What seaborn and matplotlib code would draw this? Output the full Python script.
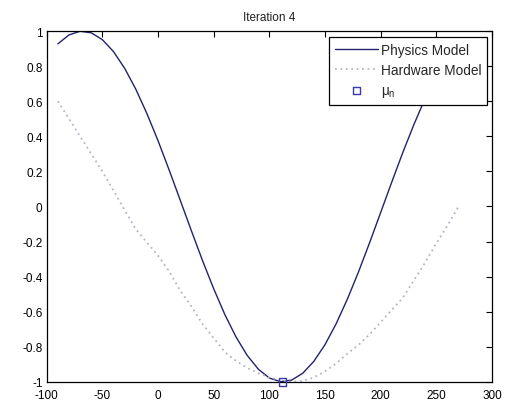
import matplotlib
matplotlib.use("Agg")
import matplotlib.pyplot as plt
import seaborn as sns
import pandas as pd

# Angle grid (degrees) shared by both model curves
angle = [-90, -80, -70, -60, -50, -40, -30, -20, -10, 0, 10, 20, 30, 40, 50,
         60, 70, 80, 90, 100, 110, 120, 130, 140, 150, 160, 170, 180, 190,
         200, 210, 220, 230, 240, 250, 260, 270]

physics = [0.927, 0.978, 0.999, 0.990, 0.951, 0.883, 0.788, 0.669, 0.530,
           0.375, 0.208, 0.035, -0.139, -0.309, -0.469, -0.616, -0.743,
           -0.848, -0.927, -0.978, -0.999, -0.990, -0.951, -0.883, -0.788,
           -0.669, -0.530, -0.375, -0.208, -0.035, 0.139, 0.309, 0.469,
           0.616, 0.743, 0.848, 0.927]

hardware = [0.60, 0.50, 0.40, 0.30, 0.20, 0.09, -0.02, -0.13, -0.205, -0.28,
            -0.37, -0.48, -0.57, -0.67, -0.75, -0.83, -0.88, -0.92, -0.95,
            -0.975, -0.99, -1.0, -0.995, -0.975, -0.94, -0.895, -0.84, -0.79,
            -0.73, -0.66, -0.59, -0.52, -0.42, -0.32, -0.21, -0.11, 0.0]

mu_n_x = [112]
mu_n_y = [-1.0]

x_ticks = [-100, -50, 0, 50, 100, 150, 200, 250, 300]
y_ticks = [-1, -0.8, -0.6, -0.4, -0.2, 0, 0.2, 0.4, 0.6, 0.8, 1]
y_tick_labels = ["-1", "-0.8", "-0.6", "-0.4", "-0.2", "0", "0.2", "0.4",
                 "0.6", "0.8", "1"]

sns.set_style("white")
plt.rcParams["font.family"] = ["Liberation Sans", "DejaVu Sans"]
plt.rcParams["mathtext.fontset"] = "custom"
plt.rcParams["mathtext.rm"] = "Liberation Sans"
plt.rcParams["mathtext.it"] = "Liberation Sans"

df = pd.DataFrame({"angle": angle, "physics": physics, "hardware": hardware})

fig = plt.figure(figsize=(5.10, 4.06), dpi=100)
ax = fig.add_axes([0.0916, 0.057, 0.873, 0.864])

sns.lineplot(data=df, x="angle", y="physics", ax=ax, color="#22226a",
             linewidth=1.0, label="Physics Model", sort=False)
sns.lineplot(data=df, x="angle", y="hardware", ax=ax, color="#b4b4c4",
             linewidth=1.3, linestyle=(0, (1, 2)), label="Hardware Model",
             sort=False)
sns.scatterplot(x=mu_n_x, y=mu_n_y, ax=ax, marker="s", s=30,
                facecolor="none", edgecolor="#3a3aa8", linewidth=1.0,
                label="μ$_\\mathrm{n}$", zorder=5, clip_on=False)

ax.set_xlim(-100, 300)
ax.set_ylim(-1, 1)
ax.set_xticks(x_ticks)
ax.set_xticklabels([str(t) for t in x_ticks])
ax.set_yticks(y_ticks)
ax.set_yticklabels(y_tick_labels)
ax.set_xlabel("")
ax.set_ylabel("")
ax.set_title("Iteration 4", fontsize=8.5, pad=8, color="#222222")

for s in ax.spines.values():
    s.set_visible(True)
    s.set_color("black")
    s.set_linewidth(0.9)
ax.tick_params(direction="in", length=4, width=0.8, top=True, right=True,
               labelsize=8.5, colors="black", pad=3)
ax.tick_params(axis="x", pad=5)

leg = ax.legend(loc="upper right", bbox_to_anchor=(0.989, 0.983),
                borderaxespad=0, frameon=True, fancybox=False,
                edgecolor="black", framealpha=1, fontsize=9.8,
                handlelength=3.2, handletextpad=0.2, labelspacing=0.45,
                borderpad=0.42)
leg.get_frame().set_linewidth(0.9)

fig.savefig("out.png", dpi=100, facecolor="white")
